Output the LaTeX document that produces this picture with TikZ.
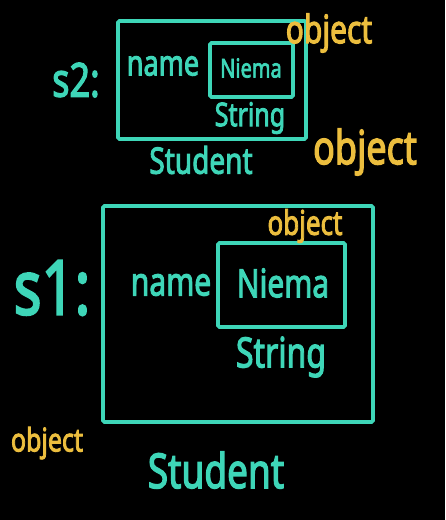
\documentclass[tikz,border=0pt]{standalone}
\usepackage{fontspec}
\usepackage{graphicx}
\setmainfont[FakeBold=3]{Noto Sans}
\definecolor{teal1}{RGB}{62,214,184}
\definecolor{gold1}{RGB}{236,190,62}
\newcommand{\hw}[2]{\fontsize{#1}{#1}\selectfont\scalebox{1}[1.3]{#2}}
\begin{document}
\begin{tikzpicture}[x=1pt,y=-1pt,
  box/.style={draw=teal1, line width=3.8pt, rounded corners=1.5pt, inner sep=0pt},
  tl/.style={text=teal1, inner sep=0pt, anchor=center},
  yl/.style={text=gold1, inner sep=0pt, anchor=center}]
\fill[black] (0,0) rectangle (445,520);
\useasboundingbox (0,0) rectangle (445,520);
% s2
\node[box, minimum width=188pt, minimum height=118pt] (s2box) at (212,80) {};
\node[box, minimum width=83pt, minimum height=54pt] (s2in) at (251.5,70) {};
\node[tl] (s2lab) at (76,80) {\hw{36}{s2:}};
\node[tl] (s2name) at (163,66) {\hw{27}{name}};
\node[tl] (s2val) at (251,68) {\hw{20}{Niema}};
\node[tl] (s2type) at (250,118) {\hw{25}{String}};
\node[tl] (s2cls) at (201,160) {\hw{28}{Student}};
\node[yl] (s2o1) at (329,33) {\hw{30}{object}};
\node[yl] (s2o2) at (365,152) {\hw{36}{object}};
% s1
\node[box, minimum width=270pt, minimum height=216pt] (s1box) at (238,314) {};
\node[box, minimum width=127pt, minimum height=84pt] (s1in) at (281.5,285) {};
\node[tl] (s1lab) at (52,288) {\hw{58}{s1:}};
\node[tl] (s1name) at (171,285) {\hw{30}{name}};
\node[tl] (s1val) at (283,283) {\hw{30}{Niema}};
\node[tl] (s1type) at (281,357) {\hw{32}{String}};
\node[tl] (s1cls) at (216,470) {\hw{37}{Student}};
\node[yl] (s1o1) at (305,226) {\hw{26}{object}};
\node[yl] (s1o2) at (47,443) {\hw{25}{object}};
\end{tikzpicture}
\end{document}
